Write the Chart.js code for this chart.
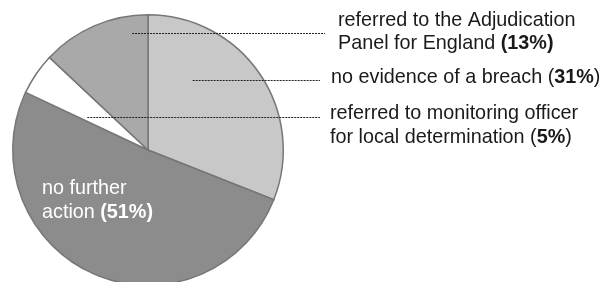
<!DOCTYPE html>
<html>
<head>
<meta charset="utf-8">
<script src="https://cdn.jsdelivr.net/npm/chart.js@4/dist/chart.umd.min.js"></script>
<style>
  html, body { margin: 0; padding: 0; background: #fff; overflow: hidden; width: 604px; height: 282px; }
  #wrap { position: relative; width: 604px; height: 300px; }
</style>
</head>
<body>
<div id="wrap"><canvas id="c"></canvas></div>
<script>
// Data
const categories = [
  'no evidence of a breach',
  'no further action',
  'referred to monitoring officer for local determination',
  'referred to the Adjudication Panel for England'
];
const values = [31, 51, 5, 13];
const sliceColors = ['#c8c8c8', '#8c8c8c', '#ffffff', '#a9a9a9'];

const FONT = '"Liberation Sans", Arial, Helvetica, sans-serif';
const FS = 19.8;

function drawRich(ctx, parts, x, y, color) {
  let cx = x;
  ctx.fillStyle = color;
  for (const [t, w] of parts) {
    ctx.font = (w === 'b' ? 'bold ' : '') + FS + 'px ' + FONT;
    ctx.fillText(t, cx, y);
    cx += ctx.measureText(t).width;
  }
}

const annotations = {
  id: 'annotations',
  afterDatasetsDraw(chart) {
    const ctx = chart.ctx;
    const arc = chart.getDatasetMeta(0).data[0];
    const cx = arc.x, cy = arc.y, r = arc.outerRadius;
    ctx.save();
    // leader lines: anchors relative to pie centre / radius
    const leaders = [
      { ax: -0.118, ay: -0.868, x2: 325 },
      { ax: 0.33, ay: -0.515, x2: 320 },
      { ax: -0.449, ay: -0.243, x2: 320 }
    ];
    ctx.strokeStyle = '#222';
    ctx.lineWidth = 1;
    ctx.setLineDash([2, 1]);
    for (const l of leaders) {
      const y = Math.round(cy + l.ay * r) + 0.5;
      ctx.beginPath();
      ctx.moveTo(cx + l.ax * r, y);
      ctx.lineTo(l.x2, y);
      ctx.stroke();
    }
    ctx.setLineDash([]);
    ctx.textBaseline = 'middle';
    ctx.textAlign = 'left';
    const dark = '#1a1a1a';
    drawRich(ctx, [['referred to the Adjudication', '']], 338, 21, dark);
    drawRich(ctx, [['Panel for England ', ''], ['(13%)', 'b']], 338, 44, dark);
    drawRich(ctx, [['no evidence of a breach (', ''], ['31%', 'b'], [')', '']], 331, 78, dark);
    drawRich(ctx, [['referred to monitoring officer', '']], 330, 114, dark);
    drawRich(ctx, [['for local determination (', ''], ['5%', 'b'], [')', '']], 330, 138, dark);
    drawRich(ctx, [['no further', '']], 42, 189, '#ffffff');
    drawRich(ctx, [['action ', ''], ['(51%)', 'b']], 42, 213, '#ffffff');
    ctx.restore();
  }
};

new Chart(document.getElementById('c'), {
  type: 'pie',
  data: {
    labels: categories,
    datasets: [{
      data: values,
      backgroundColor: sliceColors,
      borderColor: '#777777',
      borderWidth: 1.5,
      borderJoinStyle: 'miter'
    }]
  },
  options: {
    responsive: true,
    maintainAspectRatio: false,
    animation: false,
    events: [],
    layout: { padding: { left: 12, right: 320, top: 14, bottom: 14 } },
    plugins: { legend: { display: false }, tooltip: { enabled: false } }
  },
  plugins: [annotations]
});
</script>
</body>
</html>
